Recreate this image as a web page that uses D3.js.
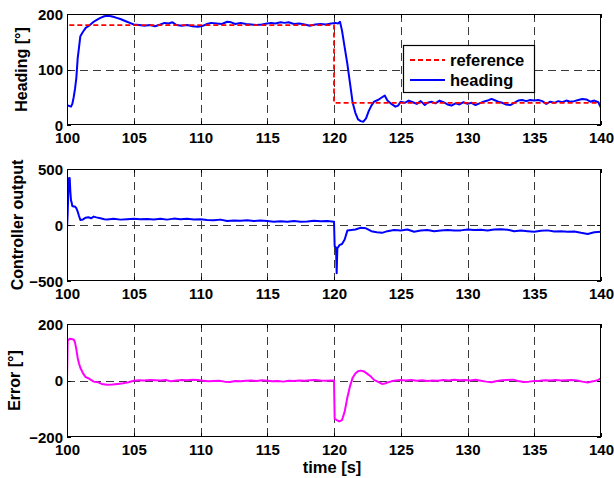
<!DOCTYPE html>
<html>
<head>
<meta charset="utf-8">
<script src="https://cdn.jsdelivr.net/npm/d3@7"></script>
<style>
  html, body { margin: 0; padding: 0; background: #fff; }
  svg { display: block; }
  text { font-family: "Liberation Sans", Arial, Helvetica, sans-serif; font-weight: bold; fill: #000; }
</style>
</head>
<body>
<svg id="chart" width="614" height="478"></svg>
<script>
// ---------------- DATA ----------------
const xTicks = [100, 105, 110, 115, 120, 125, 130, 135, 140];
const headingTicks = [0, 100, 200];
const controllerTicks = [-500, 0, 500];
const errorTicks = [-200, 0, 200];

const referenceTime   = [100, 100, 120, 120, 140];
const referenceValues = [40, 180, 180, 40, 40];

const headingTime = [100.0,100.1,100.2,100.3,100.4,100.5,100.6,100.7,100.8,100.9,101.0,101.2,101.4,101.6,101.8,102.0,102.2,102.5,102.8,103.0,103.3,103.6,104.0,104.4,104.8,105.0,105.4,105.8,106.2,106.6,107.0,107.3,107.6,107.9,108.2,108.6,109.0,109.4,109.8,110.2,110.5,110.8,111.2,111.6,112.0,112.3,112.6,113.0,113.4,113.8,114.2,114.6,115.0,115.3,115.6,116.0,116.3,116.6,117.0,117.4,117.8,118.2,118.6,119.0,119.4,119.8,120.1,120.3,120.45,120.6,120.8,121.0,121.2,121.4,121.6,121.8,122.0,122.2,122.4,122.6,122.8,123.0,123.3,123.6,123.8,124.0,124.3,124.6,124.8,125.0,125.3,125.6,125.9,126.2,126.5,126.8,127.0,127.3,127.6,127.9,128.2,128.5,128.8,129.1,129.4,129.7,130.0,130.3,130.6,130.9,131.2,131.5,131.8,132.0,132.3,132.6,132.9,133.2,133.5,133.8,134.1,134.4,134.7,135.0,135.3,135.6,135.9,136.2,136.5,136.8,137.1,137.4,137.7,138.0,138.3,138.6,138.9,139.2,139.5,139.8,140.0];
const headingValues = [36,35,34,33,38,50,65,85,120,140,160,168,175,178,182,186,189,193,196,197,196,194,191,187,183,181,180,179,180,178,181,184,183,185,180,179,180,178,177,179,182,184,183,182,186,185,182,184,182,181,180,181,183,184,183,185,184,185,182,183,181,179,181,182,181,183,184,183,186,170,140,110,75,40,22,10,7,6,12,25,35,42,45,50,53,44,38,33,35,42,40,44,41,38,43,36,40,42,39,44,41,37,35,39,37,41,38,40,36,39,42,44,47,45,42,40,37,36,40,44,45,43,45,44,45,43,38,42,40,43,41,44,42,43,45,47,46,42,44,41,31];

const controllerTime = [100.0,100.05,100.1,100.15,100.2,100.25,100.3,100.35,100.4,100.5,100.6,100.7,100.8,100.9,101.0,101.2,101.4,101.6,101.8,102.0,102.2,102.5,102.8,103.0,103.5,104.0,104.5,105.0,105.5,106.0,106.5,107.0,107.5,108.0,108.5,109.0,109.5,110.0,110.5,111.0,111.5,112.0,112.5,113.0,113.5,114.0,114.5,115.0,115.5,116.0,116.5,117.0,117.5,118.0,118.5,119.0,119.5,120.0,120.05,120.15,120.2,120.25,120.4,120.6,120.8,121.0,121.3,121.6,122.0,122.4,122.8,123.2,123.6,124.0,124.5,125.0,125.5,126.0,126.5,127.0,127.5,128.0,128.5,129.0,129.5,130.0,130.5,131.0,131.5,132.0,132.5,133.0,133.5,134.0,134.5,135.0,135.5,136.0,136.5,137.0,137.5,138.0,138.5,139.0,139.5,140.0];
const controllerValues = [-30,100,300,420,420,300,220,200,170,165,165,150,120,80,45,50,65,70,60,75,68,60,52,50,55,48,52,55,52,54,50,55,48,57,52,55,50,52,45,42,48,35,40,38,42,35,40,36,30,33,28,35,30,32,38,33,35,30,-190,-200,-430,-210,-180,-170,-130,-50,-45,-40,-25,-30,-55,-65,-70,-55,-45,-50,-40,-60,-50,-45,-55,-50,-45,-50,-48,-40,-45,-42,-50,-40,-38,-42,-55,-50,-55,-60,-52,-48,-58,-55,-60,-58,-70,-80,-65,-60];

const errorTime = [100.0,100.05,100.2,100.5,100.6,100.7,100.8,100.9,101.0,101.2,101.4,101.6,101.8,102.0,102.3,102.6,103.0,103.4,103.8,104.2,104.6,105.0,105.4,105.8,106.2,106.6,107.0,107.4,107.8,108.2,108.6,109.0,109.4,109.8,110.2,110.6,111.0,111.4,111.8,112.2,112.6,113.0,113.4,113.8,114.2,114.6,115.0,115.4,115.8,116.2,116.6,117.0,117.4,117.8,118.2,118.6,119.0,119.4,119.8,120.0,120.05,120.2,120.4,120.6,120.8,121.0,121.2,121.4,121.6,121.8,122.0,122.2,122.4,122.6,122.8,123.0,123.3,123.6,123.8,124.0,124.3,124.6,125.0,125.4,125.8,126.2,126.6,127.0,127.4,127.8,128.2,128.6,129.0,129.4,129.8,130.2,130.6,131.0,131.4,131.8,132.2,132.6,133.0,133.4,133.8,134.2,134.6,135.0,135.4,135.8,136.2,136.6,137.0,137.4,137.8,138.2,138.6,139.0,139.4,139.8,140.0];
const errorValues = [0,140,148,145,135,110,80,60,45,25,12,8,2,-4,-6,-12,-15,-14,-12,-10,-6,-1,1,0,2,1,0,2,-3,0,2,1,3,2,-1,-3,-2,-1,-4,-5,-2,-3,-1,0,-2,1,-1,-3,-2,-4,-1,-2,0,-1,1,2,0,-1,0,0,-135,-140,-145,-140,-110,-60,-20,10,25,33,35,33,27,20,12,2,-5,-12,-11,-7,-3,0,2,0,2,-1,1,-2,0,-1,2,0,3,1,2,0,3,-1,-4,-6,-2,1,2,3,-2,-5,-4,-2,-1,1,0,2,0,1,2,0,-4,-7,-3,2,8];

const legendLabels = ["reference", "heading"];

// ---------------- LAYOUT ----------------
const svg = d3.select("#chart");
const x = d3.scaleLinear().domain([100, 140]).range([67, 601]);

const panels = [
  { id: "p1", y: d3.scaleLinear().domain([0, 200]).range([125, 14]), ticks: headingTicks, label: "Heading [°]", labelX: 27 },
  { id: "p2", y: d3.scaleLinear().domain([-500, 500]).range([281, 169]), ticks: controllerTicks, label: "Controller output", labelX: 23 },
  { id: "p3", y: d3.scaleLinear().domain([-200, 200]).range([437, 324]), ticks: errorTicks, label: "Error [°]", labelX: 20 }
];

const zip = (ts, vs) => ts.map((t, i) => [t, vs[i]]);

panels.forEach(p => {
  const [yb, yt] = p.y.range();
  const x0 = x.range()[0], x1 = x.range()[1];
  const g = svg.append("g");

  g.append("clipPath").attr("id", "clip-" + p.id)
    .append("rect").attr("x", x0).attr("y", yt).attr("width", x1 - x0).attr("height", yb - yt);

  // grid
  const grid = g.append("g").attr("stroke", "#3a3a3a").attr("stroke-width", 1).attr("stroke-dasharray", "8,5");
  grid.selectAll(".vg").data(xTicks.slice(1, -1)).enter().append("line")
    .attr("x1", d => Math.round(x(d)) + 0.5).attr("x2", d => Math.round(x(d)) + 0.5)
    .attr("y1", yt).attr("y2", yb);
  grid.selectAll(".hg").data(p.ticks.slice(1, -1)).enter().append("line")
    .attr("x1", x0).attr("x2", x1)
    .attr("y1", d => Math.round(p.y(d)) + 0.5).attr("y2", d => Math.round(p.y(d)) + 0.5);

  // axes (bottom & left) using d3 axis, tick labels
  const xAxis = d3.axisBottom(x).tickValues(xTicks).tickSize(0).tickPadding(6).tickFormat(d3.format("d"));
  const ax = g.append("g").attr("transform", `translate(0,${yb})`).call(xAxis);
  ax.select(".domain").remove();
  ax.selectAll("text").attr("font-size", 15).attr("font-family", "Liberation Sans, Arial, sans-serif")
    .attr("font-weight", "bold").attr("dy", null).attr("y", 17.5).attr("dominant-baseline", null);

  const yAxis = d3.axisLeft(p.y).tickValues(p.ticks).tickSize(0).tickPadding(4).tickFormat(d3.format("d"));
  const ay = g.append("g").attr("transform", `translate(${x0},0)`).call(yAxis);
  ay.select(".domain").remove();
  ay.selectAll("text").attr("font-size", 15).attr("font-family", "Liberation Sans, Arial, sans-serif")
    .attr("font-weight", "bold").attr("dy", "0.36em");

  // inward tick marks on all sides
  const tk = g.append("g").attr("stroke", "#000").attr("stroke-width", 1);
  xTicks.forEach(t => {
    const xp = Math.round(x(t)) + 0.5;
    tk.append("line").attr("x1", xp).attr("x2", xp).attr("y1", yb).attr("y2", yb - 4);
    tk.append("line").attr("x1", xp).attr("x2", xp).attr("y1", yt).attr("y2", yt + 4);
  });
  p.ticks.forEach(t => {
    const ypp = Math.round(p.y(t)) + 0.5;
    tk.append("line").attr("x1", x0).attr("x2", x0 + 4).attr("y1", ypp).attr("y2", ypp);
    tk.append("line").attr("x1", x1).attr("x2", x1 - 4).attr("y1", ypp).attr("y2", ypp);
  });

  // y label
  g.append("text").attr("transform", `translate(${p.labelX},${(yb + yt) / 2}) rotate(-90)`)
    .attr("text-anchor", "middle").attr("font-size", 16).text(p.label);

  p.g = g;
  p.plot = g.append("g").attr("clip-path", `url(#clip-${p.id})`);
  p.box = () => g.append("rect").attr("x", x0 + 0.5).attr("y", yt + 0.5)
    .attr("width", x1 - x0 - 1).attr("height", yb - yt - 1)
    .attr("fill", "none").attr("stroke", "#000").attr("stroke-width", 1);
});

// ---------------- SERIES ----------------
const p1 = panels[0], p2 = panels[1], p3 = panels[2];
const line1 = d3.line().x(d => x(d[0])).y(d => p1.y(d[1]));
const line2 = d3.line().x(d => x(d[0])).y(d => p2.y(d[1]));
const line3 = d3.line().x(d => x(d[0])).y(d => p3.y(d[1]));

p1.plot.append("path").datum(zip(headingTime, headingValues)).attr("d", line1)
  .attr("fill", "none").attr("stroke", "#0000ff").attr("stroke-width", 2).attr("stroke-linejoin", "round");
p1.plot.append("path").datum(zip(referenceTime, referenceValues)).attr("d", line1)
  .attr("fill", "none").attr("stroke", "#ff0000").attr("stroke-width", 1.8).attr("stroke-dasharray", "5,3");

p2.plot.append("path").datum(zip(controllerTime, controllerValues)).attr("d", line2)
  .attr("fill", "none").attr("stroke", "#0000ff").attr("stroke-width", 2).attr("stroke-linejoin", "round");

p3.plot.append("path").datum(zip(errorTime, errorValues)).attr("d", line3)
  .attr("fill", "none").attr("stroke", "#ff00ff").attr("stroke-width", 2).attr("stroke-linejoin", "round");

panels.forEach(p => p.box());

// ---------------- LEGEND ----------------
const lg = svg.append("g");
lg.append("rect").attr("x", 403.5).attr("y", 45.5).attr("width", 131).attr("height", 47)
  .attr("fill", "#fff").attr("stroke", "#000").attr("stroke-width", 1.2);
const legendStyles = [
  { stroke: "#ff0000", dash: "5,3", y: 60 },
  { stroke: "#0000ff", dash: null, y: 80 }
];
legendLabels.forEach((lab, i) => {
  const s = legendStyles[i];
  lg.append("line").attr("x1", 410).attr("x2", 445).attr("y1", s.y).attr("y2", s.y)
    .attr("stroke", s.stroke).attr("stroke-width", 2).attr("stroke-dasharray", s.dash);
  lg.append("text").attr("x", 450).attr("y", s.y + 5.5).attr("font-size", 16.5).text(lab);
});

// x label
svg.append("text").attr("x", 332).attr("y", 473).attr("text-anchor", "middle").attr("font-size", 16.5).text("time [s]");
</script>
</body>
</html>
